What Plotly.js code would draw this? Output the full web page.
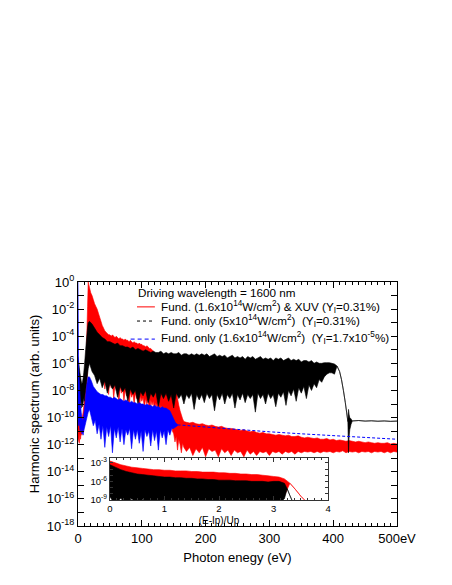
<!DOCTYPE html>
<html>
<head>
<meta charset="utf-8">
<script src="https://cdn.plot.ly/plotly-3.0.1.min.js"></script>
<style>body{margin:0;background:#fff}</style>
</head>
<body>
<div id="chart" style="width:452px;height:585px"></div>
<script>
// spectra: photon energy (eV), upper / lower edge of the noisy band as log10(yield)
var redE = [0,1,2,3,4,5,6,7,8,9,10,11,12,13,14,15,16,
  18,20,22,24,26,28,30,32,34,36,38,40,42,44,46,48,50,52,54,56,58,60,62,64,66,68,70,72,74,76,78,80,82,84,86,88,90,92,94,96,98,100,102,104,106,108,110,112,114,116,118,120,122,124,126,128,130,132,134,136,138,140,142,144,146,148,150,
  152,154,156,158,160,162,164,166,
  170,175,180,185,190,195,200,205,210,215,220,225,230,235,240,245,250,255,260,265,270,275,280,285,290,295,300,305,310,315,320,325,330,335,340,345,350,355,360,365,370,375,380,385,390,395,400,405,410,415,420,425,430,435,440,445,450,455,460,465,470,475,480,485,490,495,500];
var redHi = [-7.4,-8.0,-8.6,-9.2,-9.6,-9.9,-10.0,-9.9,-9.6,-9.2,-8.6,-7.8,-6.8,-5.4,-3.6,-1.8,0.0,
  -0.4,-0.8,-1.0,-1.3,-1.6,-1.8,-2.0,-2.3,-2.6,-2.9,-3.2,-3.4,-3.6,-3.7,-3.8,-3.9,-3.9,-4.0,-3.9,-4.0,-4.1,-4.0,-4.1,-4.2,-4.1,-4.2,-4.2,-4.3,-4.2,-4.3,-4.3,-4.4,-4.3,-4.4,-4.5,-4.4,-4.5,-4.5,-4.6,-4.5,-4.6,-4.6,-4.7,-4.7,-4.8,-4.7,-4.8,-4.9,-4.9,-5.0,-5.1,-5.2,-5.3,-5.4,-5.5,-5.7,-5.8,-5.9,-6.0,-6.1,-6.2,-6.3,-6.5,-6.7,-6.9,-7.1,-7.3,
  -7.6,-8.0,-8.6,-9.1,-9.5,-9.8,-10.1,-10.3,
  -10.35,-10.4,-10.35,-10.45,-10.5,-10.45,-10.55,-10.6,-10.55,-10.65,-10.7,-10.65,-10.75,-10.8,-10.8,-10.85,-10.9,-10.95,-10.9,-11.0,-11.05,-11.0,-11.1,-11.15,-11.1,-11.2,-11.2,-11.25,-11.3,-11.25,-11.3,-11.35,-11.3,-11.4,-11.4,-11.35,-11.45,-11.5,-11.45,-11.5,-11.55,-11.5,-11.6,-11.6,-11.55,-11.65,-11.6,-11.7,-11.65,-11.7,-11.75,-11.7,-11.75,-11.8,-11.75,-11.8,-11.85,-11.8,-11.85,-11.9,-11.85,-11.9,-11.9,-11.85,-11.95,-11.9,-11.95];
var redLo = [-11.8,-11.5,-11.9,-11.2,-11.6,-11.0,-11.3,-10.8,-11.1,-10.6,-10.2,-9.8,-9.2,-8.5,-7.5,-6.2,-5.0,
  -4.4,-4.8,-5.6,-5.2,-6.1,-5.7,-6.6,-6.1,-7.0,-6.5,-7.4,-6.8,-7.9,-7.0,-7.5,-8.3,-7.2,-7.8,-7.4,-8.6,-7.5,-8.0,-7.6,-9.0,-7.7,-8.2,-7.8,-8.8,-7.9,-8.4,-8.0,-9.4,-8.1,-8.5,-8.2,-9.0,-8.2,-8.6,-8.3,-9.8,-8.4,-8.8,-8.5,-9.3,-8.6,-9.0,-8.6,-10.2,-8.7,-9.1,-8.8,-9.6,-8.9,-9.3,-9.0,-10.4,-9.1,-9.5,-9.2,-10.0,-9.4,-9.8,-9.9,-10.6,-10.4,-11.0,-11.2,
  -11.8,-11.4,-12.4,-11.6,-12.0,-12.6,-11.9,-12.2,
  -12.5,-12.2,-12.8,-12.3,-12.6,-12.2,-12.9,-12.3,-12.5,-12.4,-12.9,-12.3,-12.6,-12.4,-12.8,-12.4,-12.6,-12.5,-12.9,-12.4,-12.7,-12.5,-12.8,-12.5,-12.6,-12.5,-12.8,-12.5,-12.6,-12.5,-12.7,-12.5,-12.6,-12.5,-12.7,-12.5,-12.6,-12.5,-12.55,-12.5,-12.6,-12.5,-12.6,-12.5,-12.55,-12.5,-12.6,-12.5,-12.55,-12.45,-12.6,-12.5,-12.55,-12.5,-12.6,-12.5,-12.55,-12.5,-12.6,-12.5,-12.55,-12.5,-12.6,-12.5,-12.6,-12.5,-12.55];

var blackE = [0,1,2,3,4,5,6,7,8,9,10,11,12,13,14,15,16,
  18,22,26,30,34,38,42,46,50,54,58,62,66,70,74,78,82,86,90,94,98,102,106,110,114,118,122,126,130,134,138,142,146,150,154,158,162,166,170,174,178,182,186,190,194,198,202,206,210,214,218,222,226,230,234,238,242,246,250,254,258,262,266,270,274,278,282,286,290,294,298,302,306,310,314,318,322,326,330,334,338,342,346,350,354,358,362,366,370,374,378,382,386,390,394,398,402,
  406,410,413,416,419,421,423,
  424,425,426,428,
  430,440,450,460,470,480,490,500];
var blackHi = [-5.5,-5.9,-6.3,-6.7,-7.0,-7.3,-7.5,-7.4,-7.1,-6.7,-6.2,-5.6,-5.0,-4.4,-3.9,-3.4,-3.0,
  -2.9,-3.1,-3.4,-3.7,-3.9,-4.1,-4.2,-4.4,-4.4,-4.5,-4.6,-4.5,-4.7,-4.7,-4.8,-4.8,-4.9,-4.8,-5.0,-4.9,-5.0,-5.1,-5.0,-5.1,-5.2,-5.1,-5.2,-5.2,-5.1,-5.3,-5.2,-5.3,-5.2,-5.3,-5.3,-5.2,-5.4,-5.3,-5.3,-5.4,-5.3,-5.4,-5.3,-5.4,-5.3,-5.4,-5.3,-5.5,-5.4,-5.3,-5.5,-5.4,-5.5,-5.4,-5.6,-5.5,-5.4,-5.6,-5.5,-5.6,-5.5,-5.7,-5.5,-5.6,-5.5,-5.7,-5.6,-5.5,-5.7,-5.6,-5.7,-5.6,-5.8,-5.6,-5.7,-5.6,-5.8,-5.7,-5.6,-5.8,-5.7,-5.8,-5.7,-5.9,-5.8,-5.8,-5.9,-5.8,-6.0,-5.9,-6.0,-6.0,-5.95,-5.95,-5.95,-6.0,-6.05,
  -6.2,-6.6,-7.2,-8.0,-8.9,-9.6,-10.3,
  -9.4,-9.8,-10.0,-10.1,
  -10.25,-10.22,-10.26,-10.24,-10.27,-10.25,-10.28,-10.26];
var blackLo = [-8.6,-8.9,-8.4,-9.1,-8.7,-9.3,-8.8,-9.2,-8.9,-8.6,-8.8,-8.3,-8.0,-7.6,-7.2,-6.8,-6.4,
  -6.0,-6.6,-6.9,-7.5,-7.1,-7.8,-7.3,-8.2,-7.5,-7.9,-7.6,-8.5,-7.7,-8.1,-7.8,-8.8,-7.9,-8.3,-8.0,-9.0,-8.1,-8.4,-8.0,-8.9,-8.2,-8.5,-8.1,-9.2,-8.2,-8.6,-8.2,-8.8,-8.3,-9.3,-8.2,-8.6,-8.3,-9.0,-8.3,-8.6,-8.2,-9.4,-8.3,-8.7,-8.3,-8.9,-8.2,-8.6,-8.3,-9.5,-8.3,-8.7,-8.2,-9.0,-8.3,-8.6,-8.2,-9.3,-8.3,-8.7,-8.2,-8.9,-8.3,-8.6,-8.3,-9.6,-8.2,-8.6,-8.3,-9.0,-8.2,-8.6,-8.3,-9.2,-8.2,-8.5,-8.1,-9.1,-8.0,-8.4,-7.9,-8.8,-7.8,-8.2,-7.7,-8.6,-7.6,-8.0,-7.5,-7.8,-7.2,-7.4,-7.0,-6.8,-6.7,-6.7,-6.8,
  -6.2,-6.6,-7.2,-8.0,-8.9,-9.6,-10.3,
  -12.6,-11.4,-10.9,-10.5,
  -10.25,-10.22,-10.26,-10.24,-10.27,-10.25,-10.28,-10.26];

var blueE = [0,1,2,3,4,5,6,7,8,9,10,11,12,13,14,15,16,
  18,21,24,27,30,33,36,39,42,45,48,51,54,57,60,63,66,69,72,75,78,81,84,87,90,93,96,99,102,105,108,111,114,117,120,123,126,129,132,135,138,141,144,147,150,153,156];
var blueHi = [0.0,-6.5,-7.3,-8.2,-9.0,-9.6,-10.0,-10.2,-10.1,-9.8,-9.4,-8.9,-8.4,-7.9,-7.5,-7.2,-7.0,
  -7.0,-7.3,-7.7,-7.9,-8.1,-8.2,-8.3,-8.3,-8.4,-8.4,-8.5,-8.5,-8.6,-8.5,-8.6,-8.7,-8.6,-8.7,-8.8,-8.7,-8.8,-8.9,-8.8,-8.9,-8.9,-9.0,-8.9,-9.0,-9.0,-9.1,-9.0,-9.1,-9.1,-9.2,-9.1,-9.2,-9.2,-9.3,-9.2,-9.3,-9.3,-9.4,-9.5,-9.8,-10.1,-10.4,-10.5];
var blueLo = [-10.2,-10.6,-10.3,-10.9,-11.0,-10.8,-11.2,-11.1,-11.3,-11.0,-10.8,-10.6,-10.4,-10.2,-10.0,-9.8,-9.6,
  -9.4,-10.0,-10.6,-10.2,-11.2,-10.5,-11.6,-10.6,-12.2,-10.7,-11.4,-10.6,-12.6,-10.8,-11.5,-10.7,-11.8,-10.8,-12.0,-10.9,-11.3,-10.8,-12.3,-10.9,-11.6,-10.9,-11.9,-11.0,-12.5,-10.9,-11.4,-11.0,-12.1,-10.9,-11.7,-11.0,-12.4,-10.9,-11.5,-11.0,-12.0,-10.9,-11.3,-10.8,-10.8,-10.7,-10.6];
var blueTailE = [156,160,200,250,300,350,400,450,500];
var blueTailY = [-10.55,-10.55,-10.7,-10.9,-11.05,-11.2,-11.35,-11.5,-11.6];

// inset: same spectra against (E-Ip)/Up
var insetRedX = [0,0.1,0.2,0.3,0.4,0.5,0.6,0.7,0.8,0.9,1.0,1.1,1.2,1.3,1.4,1.5,1.6,1.7,1.8,1.9,2.0,2.1,2.2,2.3,2.4,2.5,2.6,2.7,2.8,2.9,3.0,3.1,3.2,3.3,3.4,3.5,3.6];
var insetRedHi = [-2.7,-3.0,-3.3,-3.5,-3.7,-3.8,-3.9,-4.0,-4.1,-4.1,-4.2,-4.2,-4.3,-4.3,-4.3,-4.4,-4.4,-4.5,-4.5,-4.5,-4.6,-4.6,-4.7,-4.7,-4.8,-4.8,-4.9,-4.9,-5.0,-5.1,-5.2,-5.3,-5.6,-6.3,-7.3,-8.4,-9.3];
var insetRedLo = [-6.0,-7.6,-6.6,-8.2,-6.9,-8.8,-7.1,-9.3,-7.2,-8.5,-7.3,-9.5,-7.4,-8.7,-7.4,-9.2,-7.5,-8.9,-7.6,-9.6,-7.6,-8.8,-7.7,-9.4,-7.8,-8.9,-7.8,-9.5,-7.9,-9.0,-8.0,-9.3,-8.3,-6.3,-7.3,-8.4,-9.3];
var insetBlackX = [0,0.1,0.2,0.3,0.4,0.5,0.6,0.7,0.8,0.9,1.0,1.1,1.2,1.3,1.4,1.5,1.6,1.7,1.8,1.9,2.0,2.1,2.2,2.3,2.4,2.5,2.6,2.7,2.8,2.9,3.0,3.1,3.2,3.25,3.3,3.35];
var insetBlackHi = [-3.3,-3.7,-4.1,-4.4,-4.6,-4.8,-4.9,-5.0,-5.1,-5.2,-5.3,-5.3,-5.4,-5.4,-5.5,-5.5,-5.6,-5.6,-5.7,-5.7,-5.8,-5.8,-5.8,-5.9,-5.9,-5.9,-6.0,-6.0,-6.0,-6.1,-6.0,-6.0,-6.3,-7.2,-8.3,-9.3];
var insetBlackLo = [-8.5,-9.8,-8.7,-10,-8.8,-9.6,-8.9,-10,-9.0,-9.7,-8.9,-10,-9.1,-9.8,-9.0,-10,-9.1,-9.7,-9.0,-10,-9.2,-9.8,-9.1,-10,-9.2,-9.7,-9.1,-10,-9.2,-9.8,-9.0,-9.6,-8.8,-7.2,-8.3,-9.3];

// ticks
var xTickVals = [0,100,200,300,400,500];
var xTickText = ["0","100","200","300","400","500eV"];
var yTickVals = [1,1e-1,1e-2,1e-3,1e-4,1e-5,1e-6,1e-7,1e-8,1e-9,1e-10,1e-11,1e-12,1e-13,1e-14,1e-15,1e-16,1e-17,1e-18];
var yTickText = ["10<sup>0</sup>","","10<sup>-2</sup>","","10<sup>-4</sup>","","10<sup>-6</sup>","","10<sup>-8</sup>","","10<sup>-10</sup>","","10<sup>-12</sup>","","10<sup>-14</sup>","","10<sup>-16</sup>","","10<sup>-18</sup>"];
var insetYVals = [1e-3,1e-4,1e-5,1e-6,1e-7,1e-8,1e-9];
var insetYText = ["10<sup>-3</sup>","","","10<sup>-6</sup>","","","10<sup>-9</sup>"];

// band outline: upper edge left to right, lower edge back, filled
function band(E, hi, lo) {
  var x = [], y = [];
  for (var i = 0; i < E.length; i++) { x.push(E[i]); y.push(Math.pow(10, hi[i])); }
  for (var j = E.length - 1; j >= 0; j--) { x.push(E[j]); y.push(Math.pow(10, lo[j])); }
  return { x: x, y: y };
}

var red = band(redE, redHi, redLo);
var black = band(blackE, blackHi, blackLo);
var blue = band(blueE, blueHi, blueLo);
var iRed = band(insetRedX, insetRedHi, insetRedLo);
var iBlack = band(insetBlackX, insetBlackHi, insetBlackLo);

function bandTrace(b, color, ax) {
  var t = { x: b.x, y: b.y, mode: "lines", fill: "toself", fillcolor: color,
    line: { color: color, width: 0.6, simplify: false } };
  if (ax) { t.xaxis = "x2"; t.yaxis = "y2"; }
  return t;
}

var data = [
  bandTrace(red, "#ff0000"),
  bandTrace(black, "#000000"),
  bandTrace(blue, "#0000ff"),
  { x: blueTailE, y: blueTailY.map(function (v) { return Math.pow(10, v); }), mode: "lines",
    line: { color: "#0000ff", width: 1, dash: "3px,2px" } },
  bandTrace(iRed, "#ff0000", true),
  bandTrace(iBlack, "#000000", true)
];

var axisStyle = {
  showline: true, linecolor: "black", linewidth: 1, mirror: "allticks",
  ticks: "inside", tickcolor: "black", tickwidth: 1,
  showgrid: false, zeroline: false
};

var layout = {
  width: 452, height: 585,
  margin: { l: 78, r: 55, t: 282, b: 59 },
  paper_bgcolor: "white", plot_bgcolor: "white",
  font: { family: "Liberation Sans, Arial, sans-serif", size: 13, color: "black" },
  showlegend: false,
  xaxis: Object.assign({}, axisStyle, {
    range: [0, 500], tickvals: xTickVals, ticktext: xTickText, ticklen: 6,
    minor: { dtick: 10, ticklen: 3, ticks: "inside", tickcolor: "black" },
    title: { text: "Photon enegy (eV)", font: { size: 13 }, standoff: 8 }
  }),
  yaxis: Object.assign({}, axisStyle, {
    type: "log", range: [-18, 0], tickvals: yTickVals, ticktext: yTickText, ticklen: 6,
    title: { text: "Harmonic spectrum (arb. units)", font: { size: 13 }, standoff: 4 }
  }),
  xaxis2: Object.assign({}, axisStyle, {
    anchor: "y2", domain: [0.100, 0.784], range: [0, 4], dtick: 1, ticklen: 4,
    linecolor: "#333", tickcolor: "#333",
    minor: { dtick: 0.125, ticklen: 2, ticks: "inside", tickcolor: "#333" },
    tickfont: { size: 9.5 },
    title: { text: "(E-Ip)/Up", font: { size: 10 }, standoff: 3 }
  }),
  yaxis2: Object.assign({}, axisStyle, {
    anchor: "x2", domain: [0.107, 0.279], type: "log", range: [-9, -2.2],
    tickvals: insetYVals, ticktext: insetYText, ticklen: 3,
    linecolor: "#333", tickcolor: "#333",
    tickfont: { size: 9.5 }
  }),
  annotations: [
    { xref: "paper", yref: "paper", x: 0.182, y: 0.955, xanchor: "left", yanchor: "middle", showarrow: false,
      text: "Driving wavelength = 1600 nm", font: { size: 11.7 } },
    { xref: "paper", yref: "paper", x: 0.254, y: 0.898, xanchor: "left", yanchor: "middle", showarrow: false,
      text: "Fund. (1.6x10<sup>14</sup>W/cm<sup>2</sup>) &amp; XUV (Y<sub>I</sub>=0.31%)", font: { size: 11.7 } },
    { xref: "paper", yref: "paper", x: 0.254, y: 0.840, xanchor: "left", yanchor: "middle", showarrow: false,
      text: "Fund. only (5x10<sup>14</sup>W/cm<sup>2</sup>)&nbsp; (Y<sub>I</sub>=0.31%)", font: { size: 11.7 } },
    { xref: "paper", yref: "paper", x: 0.254, y: 0.770, xanchor: "left", yanchor: "middle", showarrow: false,
      text: "Fund. only (1.6x10<sup>14</sup>W/cm<sup>2</sup>)&nbsp; (Y<sub>I</sub>=1.7x10<sup>-5</sup>%)", font: { size: 11.7 } }
  ],
  shapes: [
    { type: "line", xref: "paper", yref: "paper", x0: 0.185, x1: 0.241, y0: 0.898, y1: 0.898, line: { color: "#ff0000", width: 1 } },
    { type: "line", xref: "paper", yref: "paper", x0: 0.185, x1: 0.241, y0: 0.840, y1: 0.840, line: { color: "#000000", width: 1, dash: "dot" } },
    { type: "line", xref: "paper", yref: "paper", x0: 0.165, x1: 0.241, y0: 0.766, y1: 0.766, line: { color: "#0000ff", width: 1, dash: "4px,3px" } }
  ]
};

Plotly.newPlot("chart", data, layout, { staticPlot: true });
</script>
</body>
</html>
